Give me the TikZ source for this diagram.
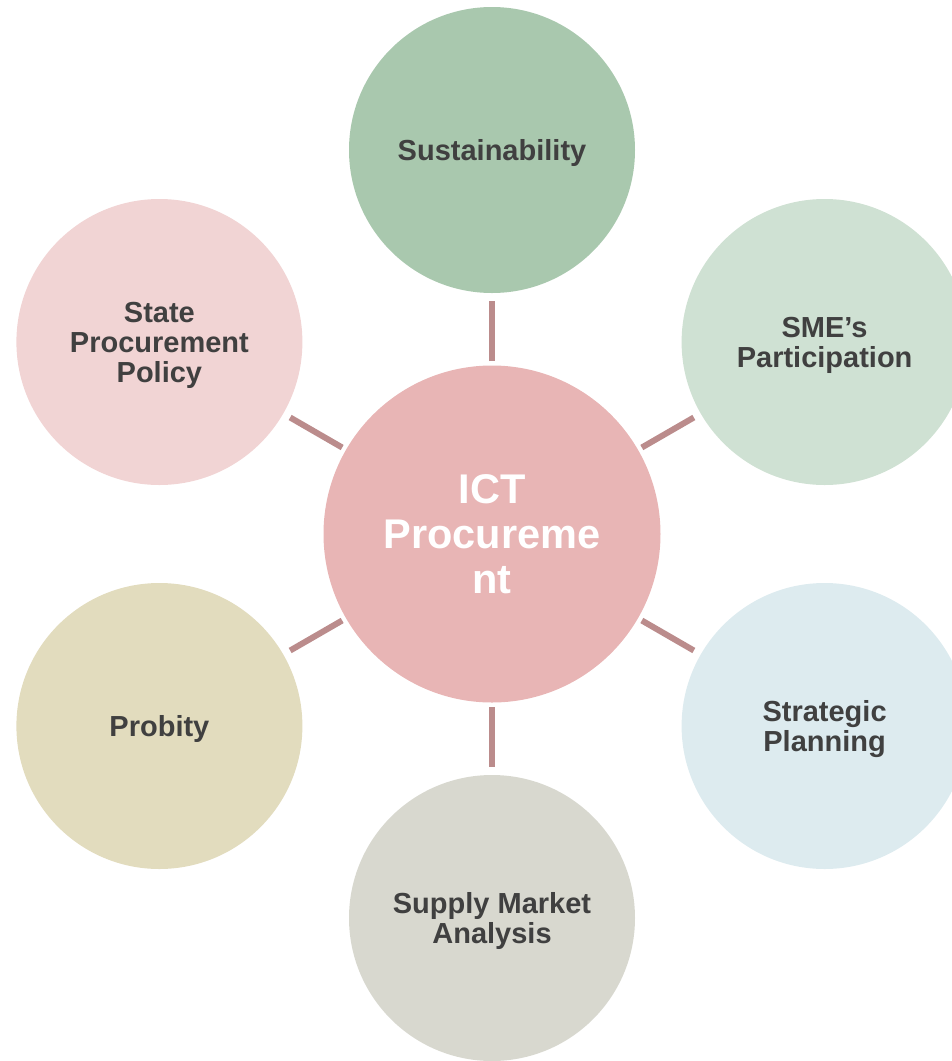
\documentclass[tikz,border=0pt]{standalone}
\usepackage{fontspec}
\setmainfont{Liberation Sans}
\usetikzlibrary{calc}
\definecolor{cCenter}{HTML}{E8B5B5}
\definecolor{cSust}{HTML}{A9C8AE}
\definecolor{cSme}{HTML}{CFE1D3}
\definecolor{cStrat}{HTML}{DDEBEF}
\definecolor{cSupply}{HTML}{D8D8CF}
\definecolor{cProb}{HTML}{E2DCBE}
\definecolor{cState}{HTML}{F1D4D4}
\definecolor{cConn}{HTML}{BB8C8C}
\definecolor{cText}{HTML}{404040}
\tikzset{
  outer/.style={circle, minimum size=286pt, inner sep=0pt, outer sep=0pt, draw=none,
    text depth=0pt, text=cText, align=center, font=\bfseries\fontsize{29}{30}\selectfont},
  hub/.style={circle, minimum size=337pt, inner sep=0pt, outer sep=0pt, draw=none,
    text depth=0pt, fill=cCenter, text=white, align=center, font=\bfseries\fontsize{41.5}{45}\selectfont},
  conn/.style={draw=cConn, line width=6pt, line cap=butt, shorten <=4.5pt, shorten >=8pt}
}
\begin{document}
\begin{tikzpicture}[x=1pt,y=-1pt]
\useasboundingbox (0,0) rectangle (952,1061);
\clip (0,0) rectangle (952,1061);
\node[hub] (c) at (492,534) {ICT\\Procureme\\nt};
\node[outer, fill=cSust] (o1) at (492,150) {Sustainability};
\node[outer, fill=cSme] (o2) at (824.6,342) {SME’s\\Participation};
\node[outer, fill=cStrat] (o3) at (824.6,726) {Strategic\\Planning};
\node[outer, fill=cSupply] (o4) at (492,918) {Supply Market\\Analysis};
\node[outer, fill=cProb] (o5) at (159.4,726) {Probity};
\node[outer, fill=cState] (o6) at (159.4,342) {State\\Procurement\\Policy};
\foreach \o in {o1,o2,o3,o4,o5,o6}{
  \draw[conn] (c) -- (\o);
}
\end{tikzpicture}
\end{document}
